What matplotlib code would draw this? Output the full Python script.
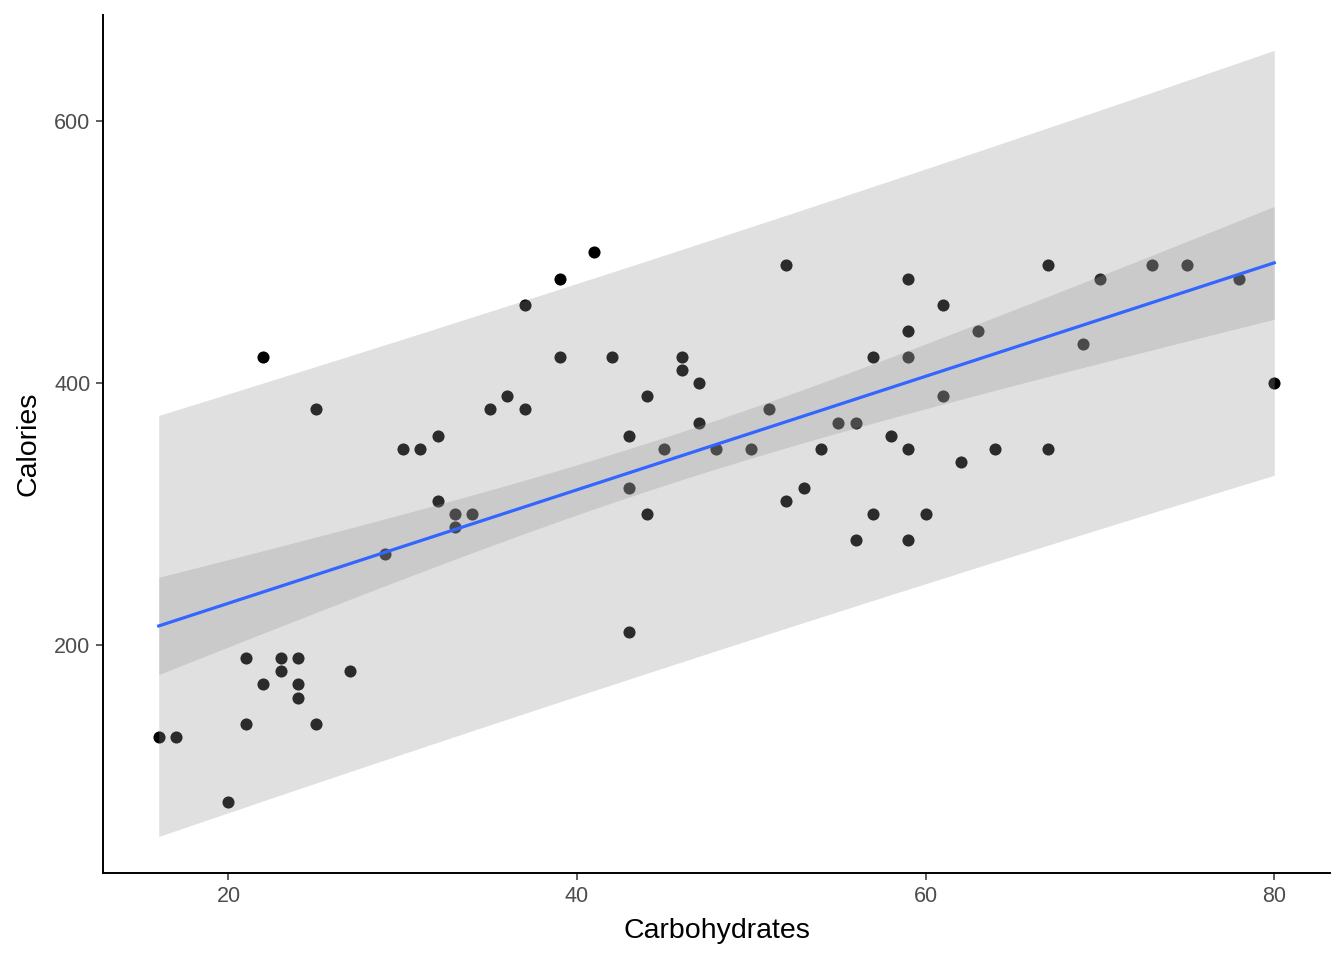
import matplotlib.pyplot as plt
import numpy as np

# values
carbs = [16, 17, 20, 21, 21, 22, 22, 23, 23, 24, 24, 24, 25, 25, 27, 29, 30, 31,
         32, 32, 33, 33, 34, 35, 36, 37, 37, 39, 39, 41, 42, 43, 43, 43, 44, 44,
         45, 46, 46, 47, 47, 48, 50, 51, 52, 52, 53, 54, 55, 56, 56, 57, 57, 58,
         59, 59, 59, 59, 59, 60, 61, 61, 62, 63, 64, 67, 67, 69, 70, 73, 75, 78, 80]
calories = [130, 130, 80, 140, 190, 170, 420, 190, 180, 190, 170, 160, 140, 380,
            180, 270, 350, 350, 360, 310, 300, 290, 300, 380, 390, 460, 380, 480,
            420, 500, 420, 360, 320, 210, 390, 300, 350, 420, 410, 400, 370, 350,
            350, 380, 490, 310, 320, 350, 370, 370, 280, 420, 300, 360, 480, 440,
            420, 350, 280, 300, 460, 390, 340, 440, 350, 490, 350, 430, 480, 490,
            490, 480, 400]
x_ticks = [20, 40, 60, 80]
y_ticks = [200, 400, 600]

T_975 = 1.994  # t quantile, df = n - 2


def fit_bands(x, y, grid):
    '''
    ordinary least squares with confidence and prediction intervals
    '''
    n = len(x)
    b1, b0 = np.polyfit(x, y, 1)
    resid = y - (b0 + b1 * x)
    s = np.sqrt(np.sum(resid ** 2) / (n - 2))
    sxx = np.sum((x - x.mean()) ** 2)
    yhat = b0 + b1 * grid
    lev = 1 / n + (grid - x.mean()) ** 2 / sxx
    ci = T_975 * s * np.sqrt(lev)
    pi = T_975 * s * np.sqrt(1 + lev)
    return yhat, ci, pi


def main():
    x = np.array(carbs, dtype=float)
    y = np.array(calories, dtype=float)
    grid = np.linspace(x.min(), x.max(), 80)
    yhat, ci, pi = fit_bands(x, y, grid)

    plt.rcParams['font.family'] = ['Liberation Sans', 'DejaVu Sans']
    fig = plt.figure(figsize=(13.44, 9.6), dpi=100)
    ax = fig.add_axes([0.0766, 0.0906, 0.913, 0.8934])

    # points first, ribbons drawn over them with alpha (as ggplot does)
    ax.scatter(x, y, s=76, color='black', linewidths=0, zorder=2)
    ax.fill_between(grid, yhat - pi, yhat + pi, color='#969696', alpha=0.29,
                    linewidth=0, zorder=3)
    ax.fill_between(grid, yhat - ci, yhat + ci, color='#969696', alpha=0.29,
                    linewidth=0, zorder=4)
    ax.plot(grid, yhat, color='#3366FF', linewidth=2.3, zorder=5)

    # limits: 5% expansion on x, y range as in the reference
    xr = x.max() - x.min()
    ax.set_xlim(x.min() - 0.05 * xr, x.max() + 0.05 * xr)
    ax.set_ylim(26, 681)

    ax.set_xticks(x_ticks)
    ax.set_yticks(y_ticks)
    ax.tick_params(colors='#333333', labelcolor='#4D4D4D', labelsize=15.5,
                   length=5, width=1.1, pad=4)
    for side in ['top', 'right']:
        ax.spines[side].set_visible(False)
    for side in ['left', 'bottom']:
        ax.spines[side].set_linewidth(1.4)

    ax.set_xlabel('Carbohydrates', fontsize=20.5, labelpad=8)
    ax.set_ylabel('Calories', fontsize=20.5, labelpad=9)

    fig.savefig('out.png', dpi=100)


if __name__ == "__main__":
    main()
